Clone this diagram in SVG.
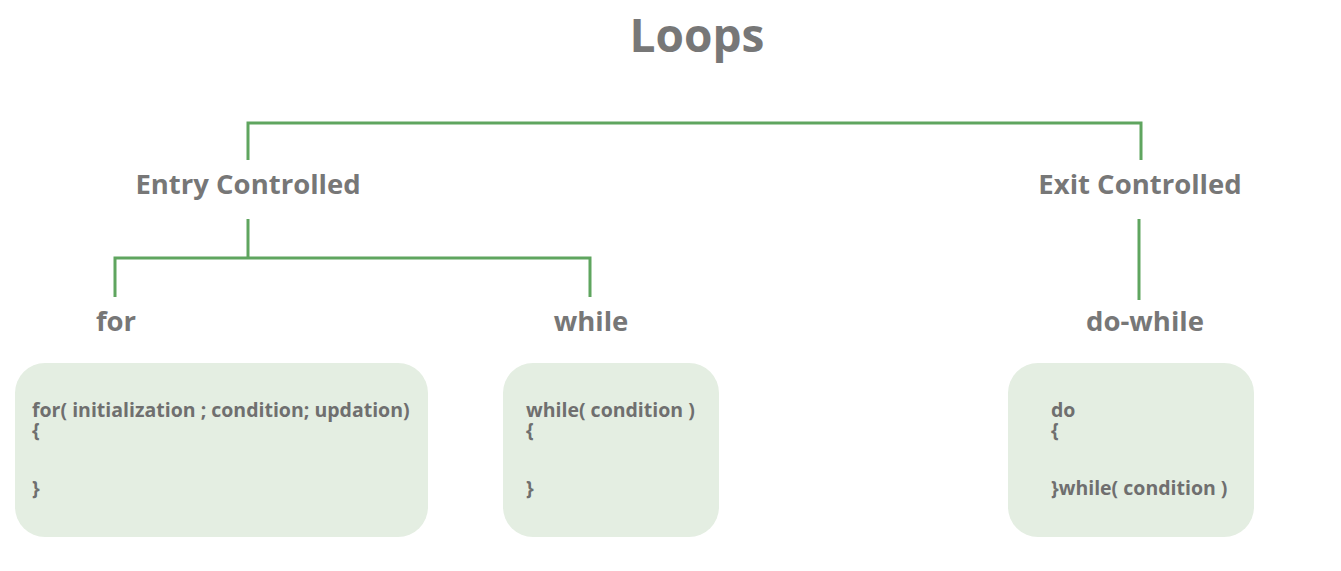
<svg xmlns="http://www.w3.org/2000/svg" width="1341" height="571" viewBox="0 0 1341 571">
<style>
.t{font-family:"Open Sans","Noto Sans","Liberation Sans",sans-serif;font-weight:bold;fill:#777777;text-anchor:middle}
.h{font-size:27.5px}
.c{font-family:"Open Sans","Noto Sans","Liberation Sans",sans-serif;font-weight:bold;fill:#6f6f6f;font-size:19.5px}
.box{fill:#e4eee2}
.ln{stroke:#5fa55f;stroke-width:3;fill:none}
</style>
<rect width="1341" height="571" fill="#ffffff"/>
<g id="connectors">
<path class="ln" d="M248,160 V123 H1141 V160"/>
<path class="ln" d="M248,219 V258"/>
<path class="ln" d="M115,297 V258 H590 V297"/>
<path class="ln" d="M1139,219 V300"/>
</g>
<g id="loops"><text class="t" x="697" y="52" font-size="46">Loops</text></g>
<g id="entry"><text class="t h" x="248" y="194">Entry Controlled</text></g>
<g id="exit"><text class="t h" x="1140" y="194">Exit Controlled</text></g>
<g id="for"><text class="t h" x="116" y="331">for</text></g>
<g id="while"><text class="t h" x="591" y="331">while</text></g>
<g id="dowhile"><text class="t h" x="1145" y="331">do-while</text></g>
<g id="for-box">
<rect class="box" x="15" y="363" width="413" height="174" rx="30"/>
<text class="c" x="32" y="417">for( initialization ; condition; updation)<tspan x="32" dy="20">{</tspan><tspan x="32" dy="58">}</tspan></text>
</g>
<g id="while-box">
<rect class="box" x="503" y="363" width="216" height="174" rx="30"/>
<text class="c" x="526" y="417">while( condition )<tspan x="526" dy="20">{</tspan><tspan x="526" dy="58">}</tspan></text>
</g>
<g id="dowhile-box">
<rect class="box" x="1008" y="363" width="246" height="174" rx="30"/>
<text class="c" x="1051" y="417">do<tspan x="1051" dy="20">{</tspan><tspan x="1051" dy="58">}while( condition )</tspan></text>
</g>
</svg>
